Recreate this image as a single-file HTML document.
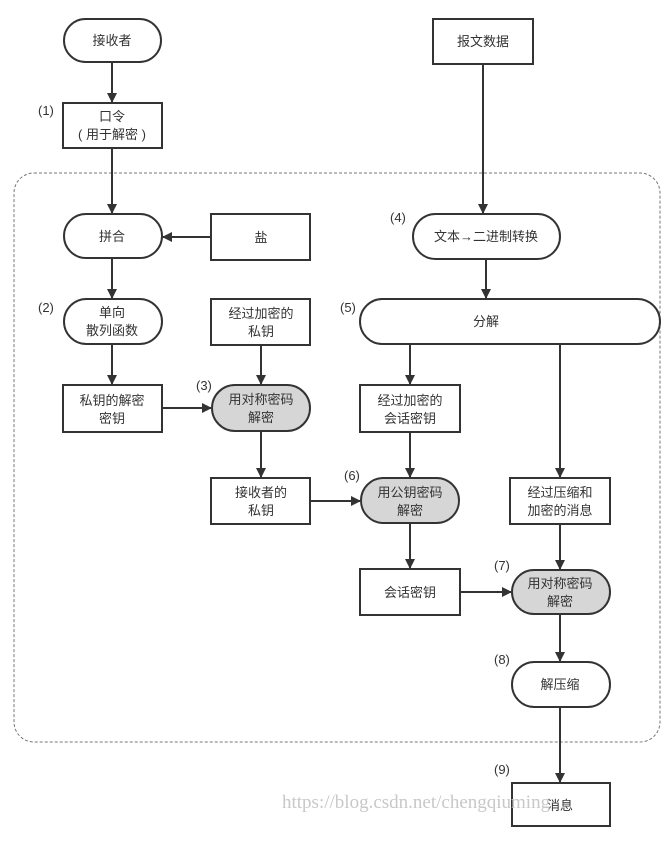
<!DOCTYPE html>
<html><head><meta charset="utf-8"><style>
body{margin:0;background:#fff;}
svg text{font-family:"Liberation Sans","Noto Sans CJK SC",sans-serif;font-size:13px;fill:#333;}
</style></head><body>
<svg width="671" height="840" viewBox="0 0 671 840" xmlns="http://www.w3.org/2000/svg">
<defs><marker id="a" markerWidth="10" markerHeight="10" refX="9" refY="5" orient="auto" markerUnits="userSpaceOnUse"><path d="M0,0 L10,5 L0,10 z" fill="#333"/></marker></defs>
<rect x="14" y="173" width="646" height="569" rx="20" fill="none" stroke="#777" stroke-dasharray="3,2" stroke-width="1"/>
<g stroke="#333" stroke-width="2" fill="#fff">
<rect x="64" y="19" width="97" height="43" rx="21.5"/>
<rect x="63" y="103" width="99" height="45"/>
<rect x="64" y="214" width="98" height="44" rx="22"/>
<rect x="211" y="214" width="99" height="46"/>
<rect x="64" y="299" width="98" height="45" rx="22.5"/>
<rect x="211" y="299" width="99" height="46"/>
<rect x="63" y="385" width="99" height="47"/>
<rect x="212" y="385" width="98" height="46" rx="23" fill="#d6d6d6"/>
<rect x="211" y="478" width="99" height="46"/>
<rect x="433" y="19" width="100" height="45"/>
<rect x="413" y="214" width="147" height="45" rx="22.5"/>
<rect x="360" y="299" width="300" height="45" rx="22.5"/>
<rect x="360" y="385" width="100" height="47"/>
<rect x="361" y="478" width="98" height="45" rx="22.5" fill="#d6d6d6"/>
<rect x="510" y="478" width="100" height="46"/>
<rect x="360" y="569" width="100" height="46"/>
<rect x="512" y="570" width="98" height="44" rx="22" fill="#d6d6d6"/>
<rect x="512" y="662" width="98" height="45" rx="22.5"/>
<rect x="512" y="783" width="98" height="43"/>
</g>
<g stroke="#333" stroke-width="2" fill="none" marker-end="url(#a)">
<line x1="112" y1="62" x2="112" y2="102"/>
<line x1="112" y1="148" x2="112" y2="213"/>
<line x1="112" y1="258" x2="112" y2="298"/>
<line x1="112" y1="344" x2="112" y2="384"/>
<line x1="211" y1="237" x2="163" y2="237"/>
<line x1="162" y1="408" x2="211" y2="408"/>
<line x1="261" y1="345" x2="261" y2="384"/>
<line x1="261" y1="431" x2="261" y2="477"/>
<line x1="310" y1="501" x2="360" y2="501"/>
<line x1="483" y1="64" x2="483" y2="213"/>
<line x1="486" y1="259" x2="486" y2="298"/>
<line x1="410" y1="344" x2="410" y2="384"/>
<line x1="560" y1="344" x2="560" y2="477"/>
<line x1="410" y1="432" x2="410" y2="477"/>
<line x1="410" y1="523" x2="410" y2="568"/>
<line x1="460" y1="592" x2="511" y2="592"/>
<line x1="560" y1="524" x2="560" y2="569"/>
<line x1="560" y1="614" x2="560" y2="661"/>
<line x1="560" y1="707" x2="560" y2="782"/>
</g>
<g text-anchor="middle">
<text x="112" y="45">接收者</text>
<text x="112" y="121">口令</text><text x="112" y="139">( 用于解密 )</text>
<text x="112" y="241">拼合</text>
<text x="261" y="242">盐</text>
<text x="112" y="317">单向</text><text x="112" y="335">散列函数</text>
<text x="261" y="318">经过加密的</text><text x="261" y="336">私钥</text>
<text x="112" y="405">私钥的解密</text><text x="112" y="423">密钥</text>
<text x="261" y="404">用对称密码</text><text x="261" y="422">解密</text>
<text x="261" y="497">接收者的</text><text x="261" y="515">私钥</text>
<text x="483" y="46">报文数据</text>
<text x="486" y="241">文本→二进制转换</text>
<text x="486" y="326">分解</text>
<text x="410" y="405">经过加密的</text><text x="410" y="423">会话密钥</text>
<text x="410" y="497">用公钥密码</text><text x="410" y="515">解密</text>
<text x="560" y="497">经过压缩和</text><text x="560" y="515">加密的消息</text>
<text x="410" y="597">会话密钥</text>
<text x="560" y="588">用对称密码</text><text x="560" y="606">解密</text>
<text x="560" y="689">解压缩</text>
<text x="560" y="810">消息</text>
</g>
<g style="font-size:11px">
<text x="38" y="115">(1)</text>
<text x="38" y="312">(2)</text>
<text x="196" y="390">(3)</text>
<text x="390" y="222">(4)</text>
<text x="340" y="312">(5)</text>
<text x="344" y="480">(6)</text>
<text x="494" y="570">(7)</text>
<text x="494" y="664">(8)</text>
<text x="494" y="774">(9)</text>
</g>
<text x="282" y="808" style="font-family:'Liberation Serif',serif;font-size:19px;fill:#c8c8c8">https://blog.csdn.net/chengqiuming</text>
</svg>
</body></html>
